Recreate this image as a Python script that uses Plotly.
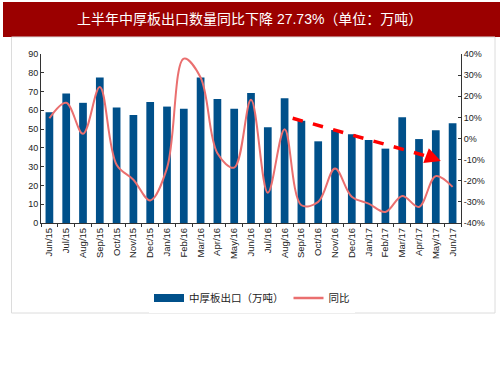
import plotly.graph_objects as go

categories = ["Jun/15","Jul/15","Aug/15","Sep/15","Oct/15","Nov/15","Dec/15","Jan/16","Feb/16",
              "Mar/16","Apr/16","May/16","Jun/16","Jul/16","Aug/16","Sep/16","Oct/16","Nov/16",
              "Dec/16","Jan/17","Feb/17","Mar/17","Apr/17","May/17","Jun/17"]
export_volume = [59, 69, 64, 77.5, 61.5, 57.5, 64.5, 62, 60.8, 77.5, 66, 60.8, 69.2, 51, 66.5,
                 54.5, 43.5, 49.5, 47.2, 44.2, 39.6, 56.3, 44.7, 49.4, 53.1]
yoy_pct = [9.6, 16.9, 2.2, 24.4, -12.4, -19.5, -29.3, -14, 37.8, 28.9, -7, -13.8, 18.3, -25.7,
           4.4, -31.6, -30, -14.2, -27.6, -30.8, -34.8, -27.2, -32.4, -17.8, -22.9]
left_ticks = list(range(0, 91, 10))
right_ticks = list(range(-40, 41, 10))
right_labels = [f"{v}%" for v in right_ticks]

title_text = "上半年中厚板出口数量同比下降 27.73%（单位：万吨）"
bar_name = "中厚板出口（万吨）"
line_name = "同比"

BAR_COLOR = "#00508a"
LINE_COLOR = "#ea6f6f"

W, H = 503, 378
L, R, T, B = 41, 461, 54, 223
pw, ph = R - L, B - T

def px(x):
    return (x - L) / pw

def py(y):
    return (B - y) / ph

FONT = "Liberation Sans, Arial, Noto Sans CJK SC, sans-serif"

fig = go.Figure()
fig.add_trace(go.Bar(x=categories, y=export_volume, name=bar_name, marker_color=BAR_COLOR,
                     marker_line_width=0, yaxis="y", showlegend=False))
fig.add_trace(go.Scatter(x=categories, y=yoy_pct, name=line_name, mode="lines",
                         line=dict(color=LINE_COLOR, width=2, shape="spline", smoothing=1.0),
                         yaxis="y2", showlegend=False))
# legend entries
fig.add_trace(go.Scatter(x=[None], y=[None], name=bar_name, mode="lines",
                         line=dict(color=BAR_COLOR, width=8), yaxis="y"))
fig.add_trace(go.Scatter(x=[None], y=[None], name=line_name, mode="lines",
                         line=dict(color=LINE_COLOR, width=2.5), yaxis="y2"))

# dashed trend arrow (decoration)
x0, y0 = 14.48, 55.8
x1, y1 = 22.7, 35.0
fig.add_shape(type="line", xref="x", yref="y", x0=x0, y0=y0, x1=x1, y1=y1,
              line=dict(color="#ff0000", width=3.5, dash="dash"))
fig.add_annotation(x=23.3, y=33.0, xref="x", yref="y", ax=22.7, ay=35.0, axref="x", ayref="y",
                   showarrow=True, arrowhead=2, arrowsize=0.9, arrowwidth=3.5,
                   arrowcolor="#ff0000", text="")

# title band
fig.add_shape(type="rect", xref="paper", yref="paper", x0=px(3), x1=px(500), y0=py(37), y1=py(2),
              fillcolor="#9b0000", line_width=0, layer="below")
fig.add_annotation(xref="paper", yref="paper", x=px(249), y=py(19.5), text=title_text,
                   showarrow=False, font=dict(family=FONT, size=14, color="white"),
                   xanchor="center", yanchor="middle")
# frame
fig.add_shape(type="rect", xref="paper", yref="paper", x0=px(11.5), x1=px(495), y0=py(313), y1=py(37),
              line=dict(color="#dcdcdc", width=1), fillcolor="rgba(0,0,0,0)", layer="below")

fig.update_layout(
    width=W, height=H,
    margin=dict(l=L, r=W - R, t=T, b=H - B),
    paper_bgcolor="white", plot_bgcolor="white",
    bargap=0.54,
    showlegend=True,
    legend=dict(orientation="h", x=px(252), xanchor="center", y=py(298), yanchor="middle",
                font=dict(family=FONT, size=10.5, color="#222"), itemwidth=30,
                traceorder="normal", tracegroupgap=0),
    font=dict(family=FONT, size=9, color="#222"),
    xaxis=dict(type="category", tickangle=-90, showline=True, linecolor="#333", linewidth=1.2,
               ticks="outside", ticklen=3, tickcolor="#333", tickson="boundaries",
               tickfont=dict(size=9.5), showgrid=False, zeroline=False),
    yaxis=dict(range=[0, 90], tickvals=left_ticks, showline=True, linecolor="#333", linewidth=1,
               ticks="inside", ticklen=3, tickcolor="#333", showgrid=False, zeroline=False,
               tickfont=dict(size=9)),
    yaxis2=dict(range=[-40, 40], tickvals=right_ticks, ticktext=right_labels, overlaying="y",
                side="right", showline=True, linecolor="#333", linewidth=1, ticks="inside",
                ticklen=3, tickcolor="#333", showgrid=False, zeroline=False,
                tickfont=dict(size=9)),
)

fig.write_html("out.html", config={"displayModeBar": False},
               post_script="document.body.style.margin='0';")
